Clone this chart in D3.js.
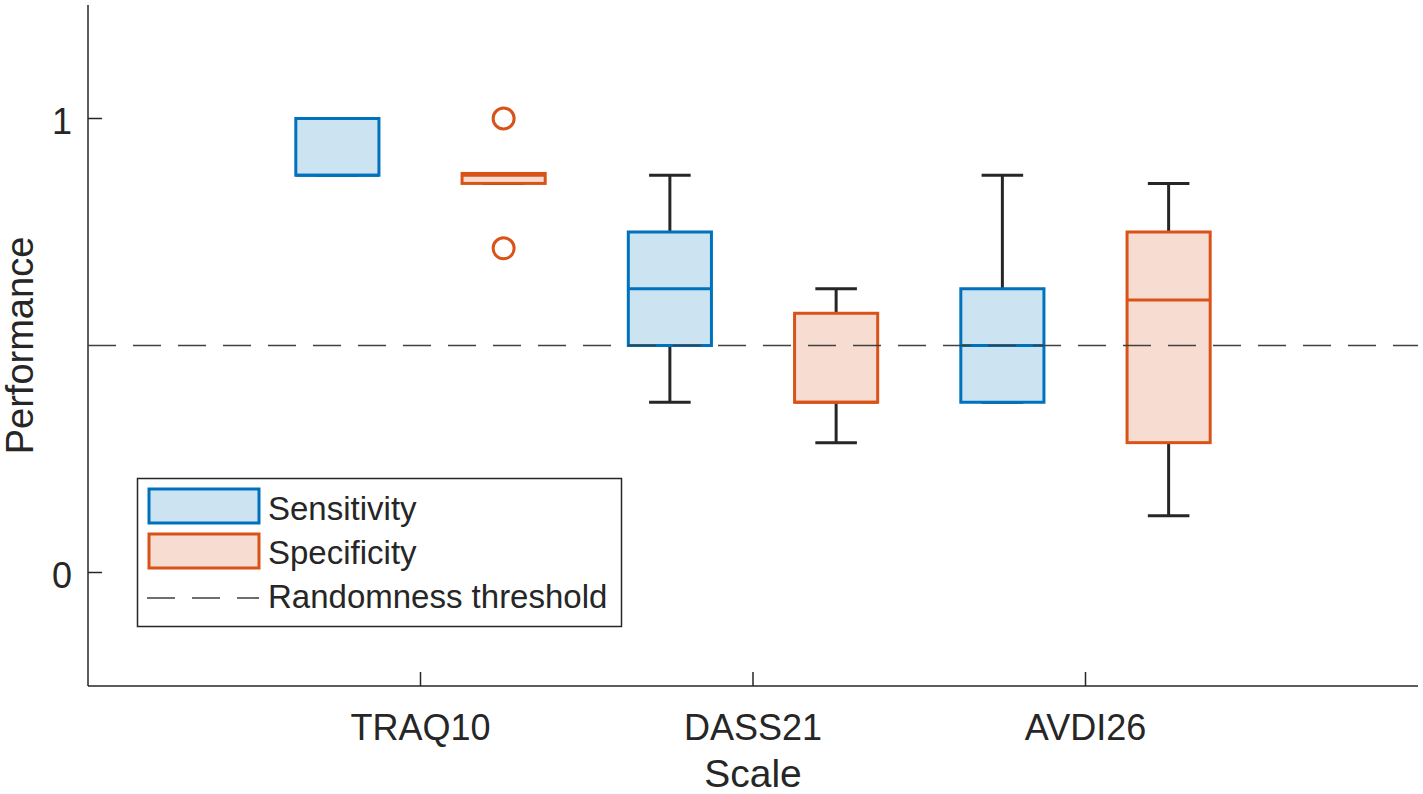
<!DOCTYPE html>
<html><head><meta charset="utf-8">
<script src="https://cdn.jsdelivr.net/npm/d3@7"></script>
<style>body{margin:0;background:#fff}svg{display:block}text{font-family:"Liberation Sans",Arial,Helvetica,sans-serif;fill:#262626}</style>
</head><body><svg id="c" width="1423" height="794"></svg>
<script>
const categories = ["TRAQ10", "DASS21", "AVDI26"];
const seriesNames = ["Sensitivity", "Specificity"];
// [min, q1, median, q3, max] per category
const sensitivityStats = [
  [0.875, 0.875, 0.875, 1.0, 1.0],
  [0.375, 0.5, 0.625, 0.75, 0.875],
  [0.375, 0.375, 0.5, 0.625, 0.875]
];
const specificityStats = [
  [0.857, 0.857, 0.875, 0.879, 0.879],
  [0.286, 0.375, 0.375, 0.571, 0.625],
  [0.125, 0.286, 0.6, 0.75, 0.857]
];
const sensitivityOutliers = [[], [], []];
const specificityOutliers = [[1.0, 0.714], [], []];
const yTicks = [0, 1];
const threshold = 0.5;
const legendLabels = ["Sensitivity", "Specificity", "Randomness threshold"];

const strokeCols = ["#0072BD", "#D95319"];
const fillCols = ["#CCE3F2", "#F7DCD1"];
const offsets = [-0.25, 0.25];
const boxW = 0.25;

const svg = d3.select("#c");
const x = d3.scaleLinear().domain([0, 4]).range([88, 1418]);
const y = d3.scaleLinear().domain([-0.25, 1.25]).range([686, 5]);

const stats = [sensitivityStats, specificityStats];
const outl = [sensitivityOutliers, specificityOutliers];

// axes
const ax = svg.append("g");
ax.append("line").attr("x1", x(0)).attr("x2", x(0)).attr("y1", y(1.25)).attr("y2", y(-0.25)).attr("stroke", "#262626").attr("stroke-width", 1.5);
ax.append("line").attr("x1", x(0)).attr("x2", x(4)).attr("y1", y(-0.25)).attr("y2", y(-0.25)).attr("stroke", "#262626").attr("stroke-width", 1.5);
yTicks.forEach(t => {
  ax.append("line").attr("x1", x(0)).attr("x2", x(0) + 14).attr("y1", y(t)).attr("y2", y(t)).attr("stroke", "#262626").attr("stroke-width", 1.5);
  ax.append("text").attr("x", 72).attr("y", y(t) + 15.5).attr("text-anchor", "end").attr("font-size", 36).text(t);
});
categories.forEach((c, i) => {
  const cx = x(i + 1);
  ax.append("line").attr("x1", cx).attr("x2", cx).attr("y1", y(-0.25)).attr("y2", y(-0.25) - 14).attr("stroke", "#262626").attr("stroke-width", 1.5);
  ax.append("text").attr("x", cx).attr("y", 740).attr("text-anchor", "middle").attr("font-size", 36).text(c);
});
ax.append("text").attr("x", x(2)).attr("y", 787).attr("text-anchor", "middle").attr("font-size", 39).text("Scale");
ax.append("text").attr("transform", `translate(33,${y(0.5)}) rotate(-90)`).attr("text-anchor", "middle").attr("font-size", 38).text("Performance");

// boxes
const g = svg.append("g");
stats.forEach((S, si) => {
  S.forEach((s, ci) => {
    const [mn, q1, md, q3, mx] = s;
    const cx = x(ci + 1 + offsets[si]);
    const hw = (x(boxW) - x(0)) / 2;
    const cw = hw / 2;
    [[q3, mx], [q1, mn]].forEach(([a, b]) => {
      if (a !== b) {
        g.append("line").attr("x1", cx).attr("x2", cx).attr("y1", y(a)).attr("y2", y(b)).attr("stroke", "#262626").attr("stroke-width", 3);
      }
      g.append("line").attr("x1", cx - cw).attr("x2", cx + cw).attr("y1", y(b)).attr("y2", y(b)).attr("stroke", "#262626").attr("stroke-width", 3);
    });
    g.append("rect").attr("x", cx - hw).attr("width", 2 * hw).attr("y", y(q3)).attr("height", y(q1) - y(q3))
      .attr("fill", fillCols[si]).attr("stroke", strokeCols[si]).attr("stroke-width", 3);
    g.append("line").attr("x1", cx - hw).attr("x2", cx + hw).attr("y1", y(md)).attr("y2", y(md)).attr("stroke", strokeCols[si]).attr("stroke-width", 3);
    outl[si][ci].forEach(v => {
      g.append("circle").attr("cx", cx).attr("cy", y(v)).attr("r", 10.5).attr("fill", "none").attr("stroke", strokeCols[si]).attr("stroke-width", 3);
    });
  });
});

// threshold line
svg.append("line").attr("x1", x(0)).attr("x2", x(4)).attr("y1", y(threshold)).attr("y2", y(threshold))
  .attr("stroke", "#404040").attr("stroke-width", 1.6).attr("stroke-dasharray", "28,17");

// legend
const lg = svg.append("g");
lg.append("rect").attr("x", 137.5).attr("y", 478.5).attr("width", 484).attr("height", 148).attr("fill", "#fff").attr("stroke", "#262626").attr("stroke-width", 1.5);
[0, 1].forEach(i => {
  const yy = [489, 534][i];
  lg.append("rect").attr("x", 149).attr("y", yy).attr("width", 110).attr("height", 34).attr("fill", fillCols[i]).attr("stroke", strokeCols[i]).attr("stroke-width", 3);
});
lg.append("line").attr("x1", 147).attr("x2", 259).attr("y1", 598).attr("y2", 598).attr("stroke", "#404040").attr("stroke-width", 1.6).attr("stroke-dasharray", "28,17");
legendLabels.forEach((t, i) => {
  lg.append("text").attr("x", 268).attr("y", [520, 564, 608][i]).attr("font-size", 33).attr("fill", "#000").text(t);
});
</script></body></html>
